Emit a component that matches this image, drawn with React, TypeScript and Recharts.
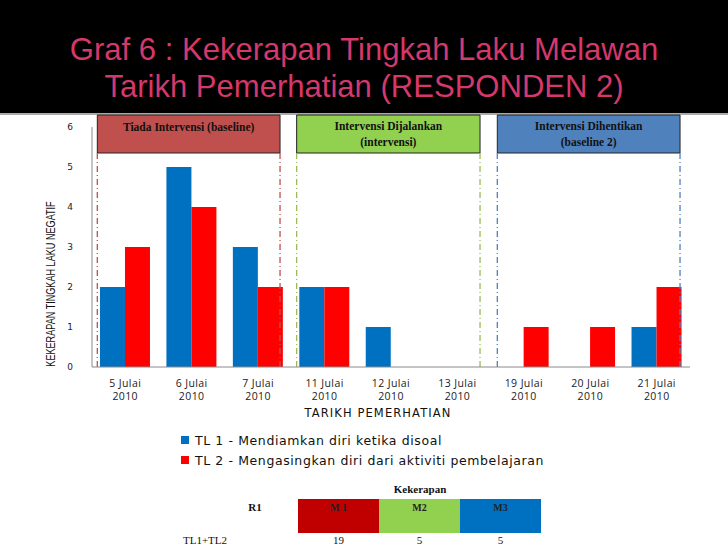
import React from "react";
import { BarChart, Bar, XAxis, YAxis, ReferenceArea, ReferenceLine } from "recharts";

const dates = ["5 Julai", "6 Julai", "7 Julai", "11 Julai", "12 Julai", "13 Julai", "19 Julai", "20 Julai", "21 Julai"];
const tl1 = [2, 5, 3, 2, 1, 0, 0, 0, 1];
const tl2 = [3, 4, 2, 2, 0, 0, 1, 1, 2];
const yTicks = [0, 1, 2, 3, 4, 5, 6];

const seriesNames = ["TL 1 - Mendiamkan diri ketika disoal", "TL 2 - Mengasingkan diri dari aktiviti pembelajaran"];
const seriesColors = ["#0070C0", "#FF0000"];

// phase boundaries in category units (0 = left edge of first date)
const phaseNames = [["Tiada Intervensi (baseline)"], ["Intervensi Dijalankan", "(intervensi)"], ["Intervensi Dihentikan", "(baseline 2)"]];
const phaseStart = [0.08, 3.08, 6.1];
const phaseEnd = [2.83, 5.84, 8.85];
const phaseFill = ["#C0504D", "#92D050", "#4F81BD"];
const phaseLine = ["#C0504D", "#9BBB59", "#4F81BD"];

const tableHead = ["M 1", "M2", "M3"];
const tableFill = ["#C00000", "#92D050", "#0070C0"];
const tableValues = [19, 5, 5];

const data = dates.map((d, i) => ({ date: d, pos: i + 0.5, tl1: tl1[i], tl2: tl2[i] }));

const DateTick = (props: any) => {
  const { x, y, payload } = props;
  return (
    <g fill="#222" fontSize={10.5} letterSpacing={0.4} fontFamily="Open Sans, sans-serif">
      <text x={x} y={y + 12} textAnchor="middle">{payload.value}</text>
      <text x={x} y={y + 25} textAnchor="middle">2010</text>
    </g>
  );
};

const CountTick = (props: any) => {
  const { x, y, payload } = props;
  return (
    <text x={x - 14} y={y + 3} textAnchor="middle" fill="#222" fontSize={9} fontFamily="DejaVu Sans, sans-serif">
      {payload.value}
    </text>
  );
};

const PhaseLabel = (lines: string[]) => (props: any) => {
  const vb = props.viewBox;
  const cx = vb.x + vb.width / 2;
  const top = lines.length === 1 ? vb.y + 16 : vb.y + 15;
  return (
    <text x={cx} y={top} textAnchor="middle" fontSize={11.5} fontWeight="bold" fill="#111" fontFamily="Liberation Serif, serif">
      {lines.map((l, i) => (
        <tspan key={i} x={cx} dy={i === 0 ? 0 : 16}>{l}</tspan>
      ))}
    </text>
  );
};

export default function App() {
  return (
    <div style={{ position: "absolute", left: 0, top: 0, width: 728, height: 546, background: "#fff", overflow: "hidden" }}>
      <div style={{ position: "absolute", left: 0, top: 0, width: 728, height: 113, background: "#000" }} />
      <div style={{ position: "absolute", left: 0, top: 113, width: 728, height: 2, background: "#aaa" }} />
      <div
        style={{
          position: "absolute", left: 0, top: 31, width: 728, textAlign: "center", color: "#D4386C",
          fontFamily: "Liberation Sans, sans-serif", fontSize: 32, lineHeight: "37px",
          transform: "scaleX(0.97)", transformOrigin: "366px 0",
        }}
      >
        Graf 6 : Kekerapan Tingkah Laku Melawan
        <br />
        Tarikh Pemerhatian (RESPONDEN 2)
      </div>

      <div style={{ position: "absolute", left: 0, top: 0 }}>
        <BarChart width={728} height={546} data={data} margin={{ top: 127, right: 38, bottom: 149, left: 0 }} barCategoryGap="12%" barGap={0}>
          <XAxis dataKey="date" height={30} tick={<DateTick />} tickLine={false} axisLine={{ stroke: "#8a8a8a" }} interval={0} />
          <XAxis xAxisId="n" dataKey="pos" type="number" scale="linear" domain={[0, 9]} allowDataOverflow hide />
          <YAxis width={92} domain={[0, 6]} ticks={yTicks} tick={<CountTick />} tickLine={false} axisLine={{ stroke: "#8a8a8a" }} />
          <Bar dataKey="tl1" name={seriesNames[0]} fill={seriesColors[0]} isAnimationActive={false} />
          <Bar dataKey="tl2" name={seriesNames[1]} fill={seriesColors[1]} isAnimationActive={false} />
          {phaseStart.map((s, i) => (
            <ReferenceLine key={"a" + i} xAxisId="n" segment={[{ x: s, y: 0 }, { x: s, y: 5.35 }]} stroke={phaseLine[i]} strokeWidth={1.3} strokeDasharray="6 3 1 3" ifOverflow="visible" />
          ))}
          {phaseEnd.map((s, i) => (
            <ReferenceLine key={"b" + i} xAxisId="n" segment={[{ x: s, y: 0 }, { x: s, y: 5.35 }]} stroke={phaseLine[i]} strokeWidth={1.3} strokeDasharray="6 3 1 3" ifOverflow="visible" />
          ))}
          {phaseStart.map((s, i) => (
            <ReferenceArea
              key={"r" + i}
              xAxisId="n"
              x1={s}
              x2={phaseEnd[i]}
              y1={5.35}
              y2={6.3}
              fill={phaseFill[i]}
              fillOpacity={1}
              stroke="#222"
              strokeWidth={1}
              ifOverflow="visible"
              label={PhaseLabel(phaseNames[i])}
            />
          ))}
        </BarChart>
      </div>

      <div
        style={{
          position: "absolute", left: 50, top: 284, transform: "translate(-50%, -50%) rotate(-90deg) scaleX(0.7)", whiteSpace: "nowrap",
          fontFamily: "Liberation Sans, sans-serif", fontSize: 13, color: "#111",
        }}
      >
        KEKERAPAN TINGKAH LAKU NEGATIF
      </div>
      <div
        style={{
          position: "absolute", left: 0, top: 406, width: 756, textAlign: "center", fontFamily: "DejaVu Sans, sans-serif",
          fontSize: 11.5, letterSpacing: 1.1, color: "#111",
        }}
      >
        TARIKH PEMERHATIAN
      </div>

      <div style={{ position: "absolute", left: 181, top: 430, fontFamily: "DejaVu Sans, sans-serif", fontSize: 12.5, letterSpacing: 0.6, color: "#111" }}>
        {seriesNames.map((n, i) => (
          <div key={n} style={{ display: "flex", alignItems: "center", height: 20 }}>
            <span style={{ width: 8, height: 8, background: seriesColors[i], marginRight: 6, display: "inline-block" }} />
            {n}
          </div>
        ))}
      </div>

      <div style={{ position: "absolute", left: 0, top: 0, fontFamily: "Liberation Serif, serif", fontSize: 11, color: "#111" }}>
        <div style={{ position: "absolute", left: 380, top: 483, width: 80, textAlign: "center", fontWeight: "bold" }}>Kekerapan</div>
        <div style={{ position: "absolute", left: 230, top: 501, width: 50, textAlign: "center", fontWeight: "bold" }}>R1</div>
        <div style={{ position: "absolute", left: 165, top: 534, width: 80, textAlign: "center" }}>TL1+TL2</div>
        {tableHead.map((h, i) => (
          <React.Fragment key={h}>
            <div
              style={{
                position: "absolute", left: 298 + i * 81, top: 499, width: 81, height: 34, background: tableFill[i],
                textAlign: "center", fontWeight: "bold", fontSize: 10, lineHeight: "18px", color: "#222",
              }}
            >
              {h}
            </div>
            <div style={{ position: "absolute", left: 298 + i * 81, top: 534, width: 81, textAlign: "center" }}>{tableValues[i]}</div>
          </React.Fragment>
        ))}
      </div>
    </div>
  );
}
